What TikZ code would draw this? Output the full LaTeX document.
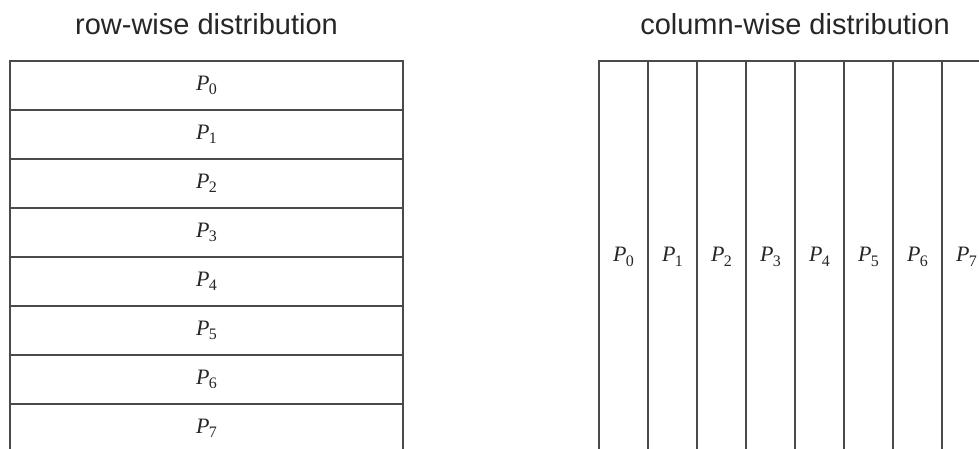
\documentclass[tikz,border=0pt]{standalone}
\usepackage{fontspec}
\setmainfont{Liberation Serif}
\setsansfont{Liberation Sans}
\usepackage{tikz}
\usetikzlibrary{positioning}
\definecolor{rule}{HTML}{4A4A4A}
\definecolor{ink}{HTML}{262626}
\newcommand{\proc}[1]{{\itshape P}\kern-0.5pt\raisebox{-0.2em}{\fontsize{16}{16}\selectfont #1}}

\begin{document}
\begin{tikzpicture}[x=1pt,y=1pt,
  rowcell/.style={draw=rule,line width=1.3pt,minimum width=393pt,minimum height=49pt,inner sep=0pt,text=ink,font=\fontsize{22}{24}\selectfont},
  colcell/.style={draw=rule,line width=1.3pt,minimum width=49pt,minimum height=392pt,inner sep=0pt,text=ink,font=\fontsize{22}{24}\selectfont},
  title/.style={anchor=base,text=ink,font=\sffamily\fontsize{29}{35}\selectfont}]
\useasboundingbox (0,0) rectangle (979,449);
\clip (0,0) rectangle (979,449);
% one strip per processor
\foreach \i in {0,...,7} {
  \node[rowcell] (row\i) at (206.5,363.5-49*\i) {\proc{\i}};
  \node[colcell] (col\i) at (623.5+49*\i,192) {\proc{\i}};
}
\node[title] (rowtitle) at (206.5,414) {row-wise distribution};
\node[title] (coltitle) at (795,414) {column-wise distribution};
\end{tikzpicture}
\end{document}
